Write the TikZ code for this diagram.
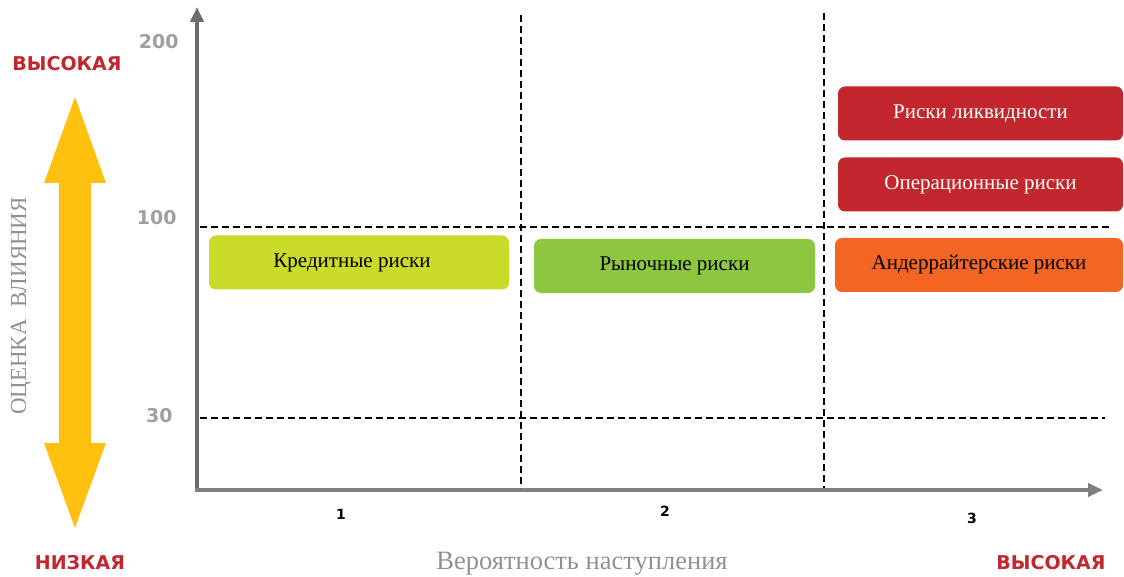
\documentclass[tikz,border=0pt]{standalone}
\usepackage{fontspec}
\setmainfont{Liberation Serif}
\newfontfamily\labelfont{DejaVu Sans}
\usetikzlibrary{arrows.meta}
\definecolor{yaxis}{RGB}{108,108,110}
\definecolor{xaxis}{RGB}{128,128,130}
\definecolor{tickgray}{RGB}{160,160,160}
\definecolor{titlegray}{RGB}{145,145,145}
\definecolor{lvlred}{RGB}{193,39,45}
\definecolor{amber}{RGB}{255,192,15}
\definecolor{lime}{RGB}{202,219,42}
\definecolor{leaf}{RGB}{141,198,63}
\definecolor{tangerine}{RGB}{242,101,34}
\definecolor{crimson}{RGB}{193,39,45}

\begin{document}
\begin{tikzpicture}[x=1pt, y=-1pt,
  axis/.style={line width=4pt, -{Triangle[length=15pt,width=13pt]}},
  gridline/.style={black, line width=2pt, dash pattern=on 7pt off 4pt},
  riskbox/.style={rounded corners=7pt, minimum height=54pt, inner sep=0pt,
    font=\fontsize{21}{24}\selectfont},
  tick/.style={font=\labelfont\bfseries\fontsize{19}{22}\selectfont, text=tickgray},
  col/.style={font=\labelfont\bfseries\fontsize{14}{16}\selectfont},
  level/.style={font=\labelfont\bfseries\fontsize{19}{22}\selectfont, text=lvlred}]
\useasboundingbox (0,0) rectangle (1124,577);

% axes
\coordinate (origin) at (197,492);
\coordinate (ytop) at (197,7);
\coordinate (xend) at (1103,490);
\draw[axis, yaxis] (origin) -- (ytop);
\draw[axis, xaxis] (195,490) -- (xend);

% grid
\foreach \x/\t in {521/15, 824/13}
  \draw[gridline] (\x,\t) -- (\x,488);
\draw[gridline] (200,227) -- (1110,227);
\draw[gridline] (200,418) -- (1105,418);

% scale
\node[tick, anchor=east] (t200) at (182,42) {200};
\node[tick, anchor=east] (t100) at (180,218) {100};
\node[tick, anchor=east] (t30) at (176,416) {30};
\foreach \x/\y/\n in {341/514/1, 665/511/2, 972/518/3}
  \node[col] (c\n) at (\x,\y) {\n};

% impact arrow
\fill[amber] (75,97) -- (106,183) -- (91,183) -- (91,443) -- (106,443) -- (75,528)
  -- (44,443) -- (59,443) -- (59,183) -- (44,183) -- cycle;
\node[level] (hightop) at (67,64) {ВЫСОКАЯ};
\node[level] (low) at (80,563) {НИЗКАЯ};
\node[level] (highright) at (1051,563) {ВЫСОКАЯ};
\node[rotate=90, text=titlegray, font=\fontsize{23}{25}\selectfont] (impact) at (21,306) {ОЦЕНКА\ \ ВЛИЯНИЯ};
\node[text=titlegray, font=\fontsize{26.5}{28}\selectfont] (prob) at (582,564) {Вероятность наступления};

% risks
\node[riskbox, fill=lime, minimum width=300pt] (credit) at (359,262.5) {\hspace*{-14pt}\raisebox{-2pt}{Кредитные риски}};
\node[riskbox, fill=leaf, minimum width=281pt] (market) at (674.5,266) {\raisebox{3pt}{Рыночные риски}};
\node[riskbox, fill=tangerine, minimum width=288pt] (underwr) at (979,265) {\raisebox{3pt}{Андеррайтерские риски}};
\node[riskbox, fill=crimson, text=white, minimum width=285pt] (liquid) at (980.5,113.5) {\raisebox{2pt}{Риски ликвидности}};
\node[riskbox, fill=crimson, text=white, minimum width=285pt] (oper) at (980.5,184.5) {\raisebox{2pt}{Операционные риски}};
\end{tikzpicture}
\end{document}
